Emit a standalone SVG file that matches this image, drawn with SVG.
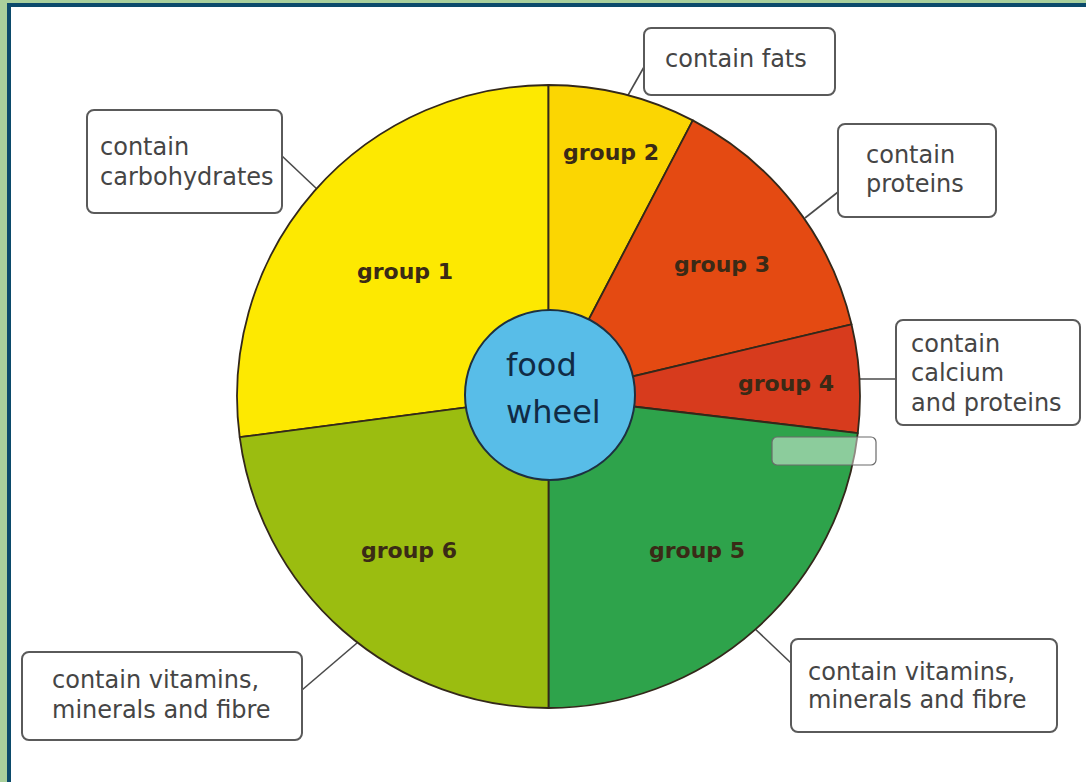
<svg xmlns="http://www.w3.org/2000/svg" width="1086" height="782" viewBox="0 0 1086 782">
<style>
.wedge{stroke:#33281a;stroke-width:1.8;stroke-linejoin:round}
.glabel{font-family:"DejaVu Sans",sans-serif;font-weight:bold;font-size:22px;fill:#3a2a16;text-anchor:middle}
.box{fill:#ffffff;stroke:#5a5a5a;stroke-width:2}
.btext{font-family:"DejaVu Sans",sans-serif;font-size:24px;fill:#454545}
.conn{stroke:#4a4a4a;stroke-width:1.6;fill:none}
</style>
<rect x="0" y="0" width="1086" height="782" fill="#a9d09c"/>
<rect x="7" y="3" width="1079" height="779" fill="#0b4a6b"/>
<rect x="11" y="7" width="1075" height="775" fill="#ffffff"/>

<g id="connectors">
  <line class="conn" x1="282" y1="156" x2="318" y2="190"/>
  <line class="conn" x1="644" y1="67" x2="627" y2="97"/>
  <line class="conn" x1="838" y1="192" x2="805" y2="218"/>
  <line class="conn" x1="856" y1="379" x2="896" y2="379"/>
  <line class="conn" x1="302" y1="690" x2="357" y2="643"/>
  <line class="conn" x1="791" y1="663" x2="752" y2="626"/>
</g>

<g id="group1">
  <path class="wedge" fill="#fde901" d="M548.5,396.5 L548.5,85 A311.5,311.5 0 0 0 239.7,437.2 Z"/>
  <text class="glabel" x="405" y="279">group 1</text>
</g>
<g id="group2">
  <path class="wedge" fill="#fbd602" d="M548.5,396.5 L548.5,85 A311.5,311.5 0 0 1 692.8,120.4 Z"/>
  <text class="glabel" x="611" y="160">group 2</text>
</g>
<g id="group3">
  <path class="wedge" fill="#e44a12" d="M548.5,396.5 L692.8,120.4 A311.5,311.5 0 0 1 851.5,324.3 Z"/>
  <text class="glabel" x="722" y="272">group 3</text>
</g>
<g id="group4">
  <path class="wedge" fill="#d73b1d" d="M548.5,396.5 L851.5,324.3 A311.5,311.5 0 0 1 857.8,433.1 Z"/>
  <text class="glabel" x="786" y="391">group 4</text>
</g>
<g id="group5">
  <path class="wedge" fill="#2ea34b" d="M548.5,396.5 L857.8,433.1 A311.5,311.5 0 0 1 548.5,708 Z"/>
  <text class="glabel" x="697" y="558">group 5</text>
</g>
<g id="group6">
  <path class="wedge" fill="#9bbd10" d="M548.5,396.5 L548.5,708 A311.5,311.5 0 0 1 239.7,437.2 Z"/>
  <text class="glabel" x="409" y="558">group 6</text>
</g>

<g id="food-wheel">
  <circle cx="550" cy="395" r="85" fill="#58bde8" stroke="#1d3040" stroke-width="2"/>
  <text x="506" y="376" font-family="DejaVu Sans, sans-serif" font-size="32" fill="#112b45">food</text>
  <text x="506" y="423" font-family="DejaVu Sans, sans-serif" font-size="32" fill="#112b45">wheel</text>
</g>

<g id="callout-carbohydrates">
  <rect class="box" x="87" y="110" width="195" height="103" rx="7"/>
  <text class="btext" x="100" y="155">contain</text>
  <text class="btext" x="100" y="185">carbohydrates</text>
</g>
<g id="callout-fats">
  <rect class="box" x="644" y="28" width="191" height="67" rx="7"/>
  <text class="btext" x="665" y="67">contain fats</text>
</g>
<g id="callout-proteins">
  <rect class="box" x="838" y="124" width="158" height="93" rx="7"/>
  <text class="btext" x="866" y="163">contain</text>
  <text class="btext" x="866" y="192">proteins</text>
</g>
<g id="callout-calcium">
  <rect class="box" x="896" y="320" width="184" height="105" rx="7"/>
  <text class="btext" x="911" y="352">contain</text>
  <text class="btext" x="911" y="381">calcium</text>
  <text class="btext" x="911" y="411">and proteins</text>
</g>
<g id="callout-vitamins-left">
  <rect class="box" x="22" y="652" width="280" height="88" rx="7"/>
  <text class="btext" x="52" y="688">contain vitamins,</text>
  <text class="btext" x="52" y="718">minerals and fibre</text>
</g>
<g id="callout-vitamins-right">
  <rect class="box" x="791" y="639" width="266" height="93" rx="7"/>
  <text class="btext" x="808" y="680">contain vitamins,</text>
  <text class="btext" x="808" y="708">minerals and fibre</text>
</g>
<g id="blank-box">
  <rect x="772" y="437" width="104" height="28" rx="5" fill="#ffffff" fill-opacity="0.45" stroke="#6a6a6a" stroke-width="1.2"/>
</g>
</svg>
